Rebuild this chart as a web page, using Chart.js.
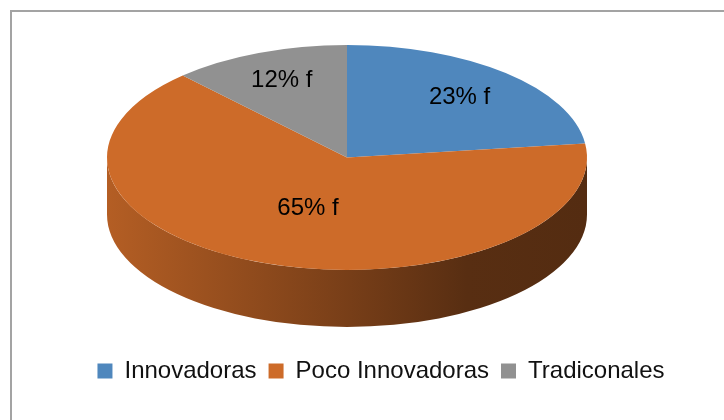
<!DOCTYPE html>
<html>
<head>
<meta charset="utf-8">
<script src="https://cdn.jsdelivr.net/npm/chart.js@4"></script>
<style>
  html, body { margin: 0; padding: 0; background: #ffffff; }
  #pieChart { display: block; }
</style>
</head>
<body>
<canvas id="pieChart" width="724" height="420"></canvas>
<script>
/*
----------------------
Datos del gráfico
----------------------
*/
var category_labels = ["Innovadoras", "Poco Innovadoras", "Tradiconales"];
var percent_values = [23, 65, 12];
var label_suffix = "% f";

var slice_colors = ["#4f87bd", "#cd6b29", "#919191"];

/*
----------------------
Geometría del "pastel 3D" en pantalla
----------------------
*/
var ellipse_cx = 347;
var ellipse_cy = 157.5;
var ellipse_rx = 240;
var ellipse_ry = 112.5;
var pie_depth = 57;

var pie_chart = null;

function hex_to_rgb(hex) {
  var n = parseInt(hex.slice(1), 16);
  return [(n >> 16) & 255, (n >> 8) & 255, n & 255];
}

function shade(rgb, factor) {
  return "rgb(" + Math.round(rgb[0] * factor) + "," + Math.round(rgb[1] * factor) + "," + Math.round(rgb[2] * factor) + ")";
}

/*
  Pasa del círculo que calcula Chart.js a la elipse aplanada
*/
function apply_squash(ctx, arc) {
  var radius = arc.outerRadius;
  ctx.translate(ellipse_cx, ellipse_cy);
  ctx.scale(ellipse_rx / radius, ellipse_ry / radius);
  ctx.translate(-arc.x, -arc.y);
}

/*
  Parte frontal visible (ángulos entre 0 y PI) de cada porción
*/
function front_ranges(start_angle, end_angle) {
  var ranges = [];
  var offsets = [-2 * Math.PI, 0, 2 * Math.PI];
  offsets.forEach(function (offset) {
    var a = Math.max(start_angle, offset);
    var b = Math.min(end_angle, offset + Math.PI);
    if (b > a) {
      ranges.push([a, b]);
    }
  });
  return ranges;
}

var pie3d_plugin = {
  id: "pie3d",
  beforeDraw: function (chart) {
    var ctx = chart.ctx;
    ctx.save();
    ctx.strokeStyle = "#a3a3a3";
    ctx.lineWidth = 2;
    ctx.strokeRect(11, 11, 740, 440);
    ctx.restore();
  },
  beforeDatasetsDraw: function (chart) {
    var meta = chart.getDatasetMeta(0);
    var ctx = chart.ctx;
    if (!meta.data.length) {
      return;
    }
    var first_arc = meta.data[0];
    var radius = first_arc.outerRadius;
    var depth_c = pie_depth * radius / ellipse_ry;

    ctx.save();
    apply_squash(ctx, first_arc);

    /*
    -----------------------------------------------------
    Lado del cilindro: degradado horizontal, más oscuro
    hacia la derecha como en la versión de Excel.
    -----------------------------------------------------
    */
    meta.data.forEach(function (arc, i) {
      var rgb = hex_to_rgb(slice_colors[i]);
      var gradient = ctx.createLinearGradient(arc.x - radius, 0, arc.x + radius, 0);
      gradient.addColorStop(0, shade(rgb, 0.88));
      gradient.addColorStop(0.46, shade(rgb, 0.61));
      gradient.addColorStop(0.75, shade(rgb, 0.43));
      gradient.addColorStop(1, shade(rgb, 0.41));

      front_ranges(arc.startAngle, arc.endAngle).forEach(function (range) {
        ctx.beginPath();
        ctx.arc(arc.x, arc.y, radius, range[0], range[1], false);
        ctx.arc(arc.x, arc.y + depth_c, radius, range[1], range[0], true);
        ctx.closePath();
        ctx.fillStyle = gradient;
        ctx.fill();
      });
    });
    /* la transformación sigue activa para que Chart.js dibuje la tapa */
  },
  afterDatasetsDraw: function (chart) {
    var meta = chart.getDatasetMeta(0);
    var ctx = chart.ctx;
    if (!meta.data.length) {
      return;
    }
    ctx.restore();

    /*
    -----------------------------------------------------
    Etiquetas dentro de cada porción, cerca del centroide
    -----------------------------------------------------
    */
    ctx.save();
    ctx.font = "24px 'Liberation Sans'";
    ctx.fillStyle = "#000000";
    ctx.textAlign = "center";
    ctx.textBaseline = "middle";
    meta.data.forEach(function (arc, i) {
      var mid = (arc.startAngle + arc.endAngle) / 2;
      var half = (arc.endAngle - arc.startAngle) / 2;
      var centroid = (2 / 3) * Math.sin(half) / half;
      var frac = 0.27 + 0.72 * centroid;
      var x = ellipse_cx + ellipse_rx * frac * Math.cos(mid);
      var y = ellipse_cy + ellipse_ry * frac * Math.sin(mid);
      ctx.fillText(percent_values[i] + label_suffix, x, y);
    });
    ctx.restore();
  }
};

function render_pie_chart() {
  var canvas = document.getElementById("pieChart");
  if (!canvas) {
    return;
  }
  var context = canvas.getContext("2d");

  if (pie_chart !== null) {
    pie_chart.destroy();
    pie_chart = null;
  }

  pie_chart = new Chart(context, {
    type: "pie",
    data: {
      labels: category_labels,
      datasets: [
        {
          data: percent_values,
          backgroundColor: slice_colors,
          borderWidth: 0,
          clip: false
        }
      ]
    },
    options: {
      responsive: false,
      animation: false,
      layout: {
        padding: { left: 38, right: 0, top: 20, bottom: 27 }
      },
      plugins: {
        legend: {
          position: "bottom",
          labels: {
            boxWidth: 15,
            boxHeight: 15,
            padding: 12,
            color: "#111111",
            font: { family: "Liberation Sans", size: 24 }
          }
        },
        tooltip: { enabled: false }
      }
    },
    plugins: [pie3d_plugin]
  });
}

render_pie_chart();
</script>
</body>
</html>
